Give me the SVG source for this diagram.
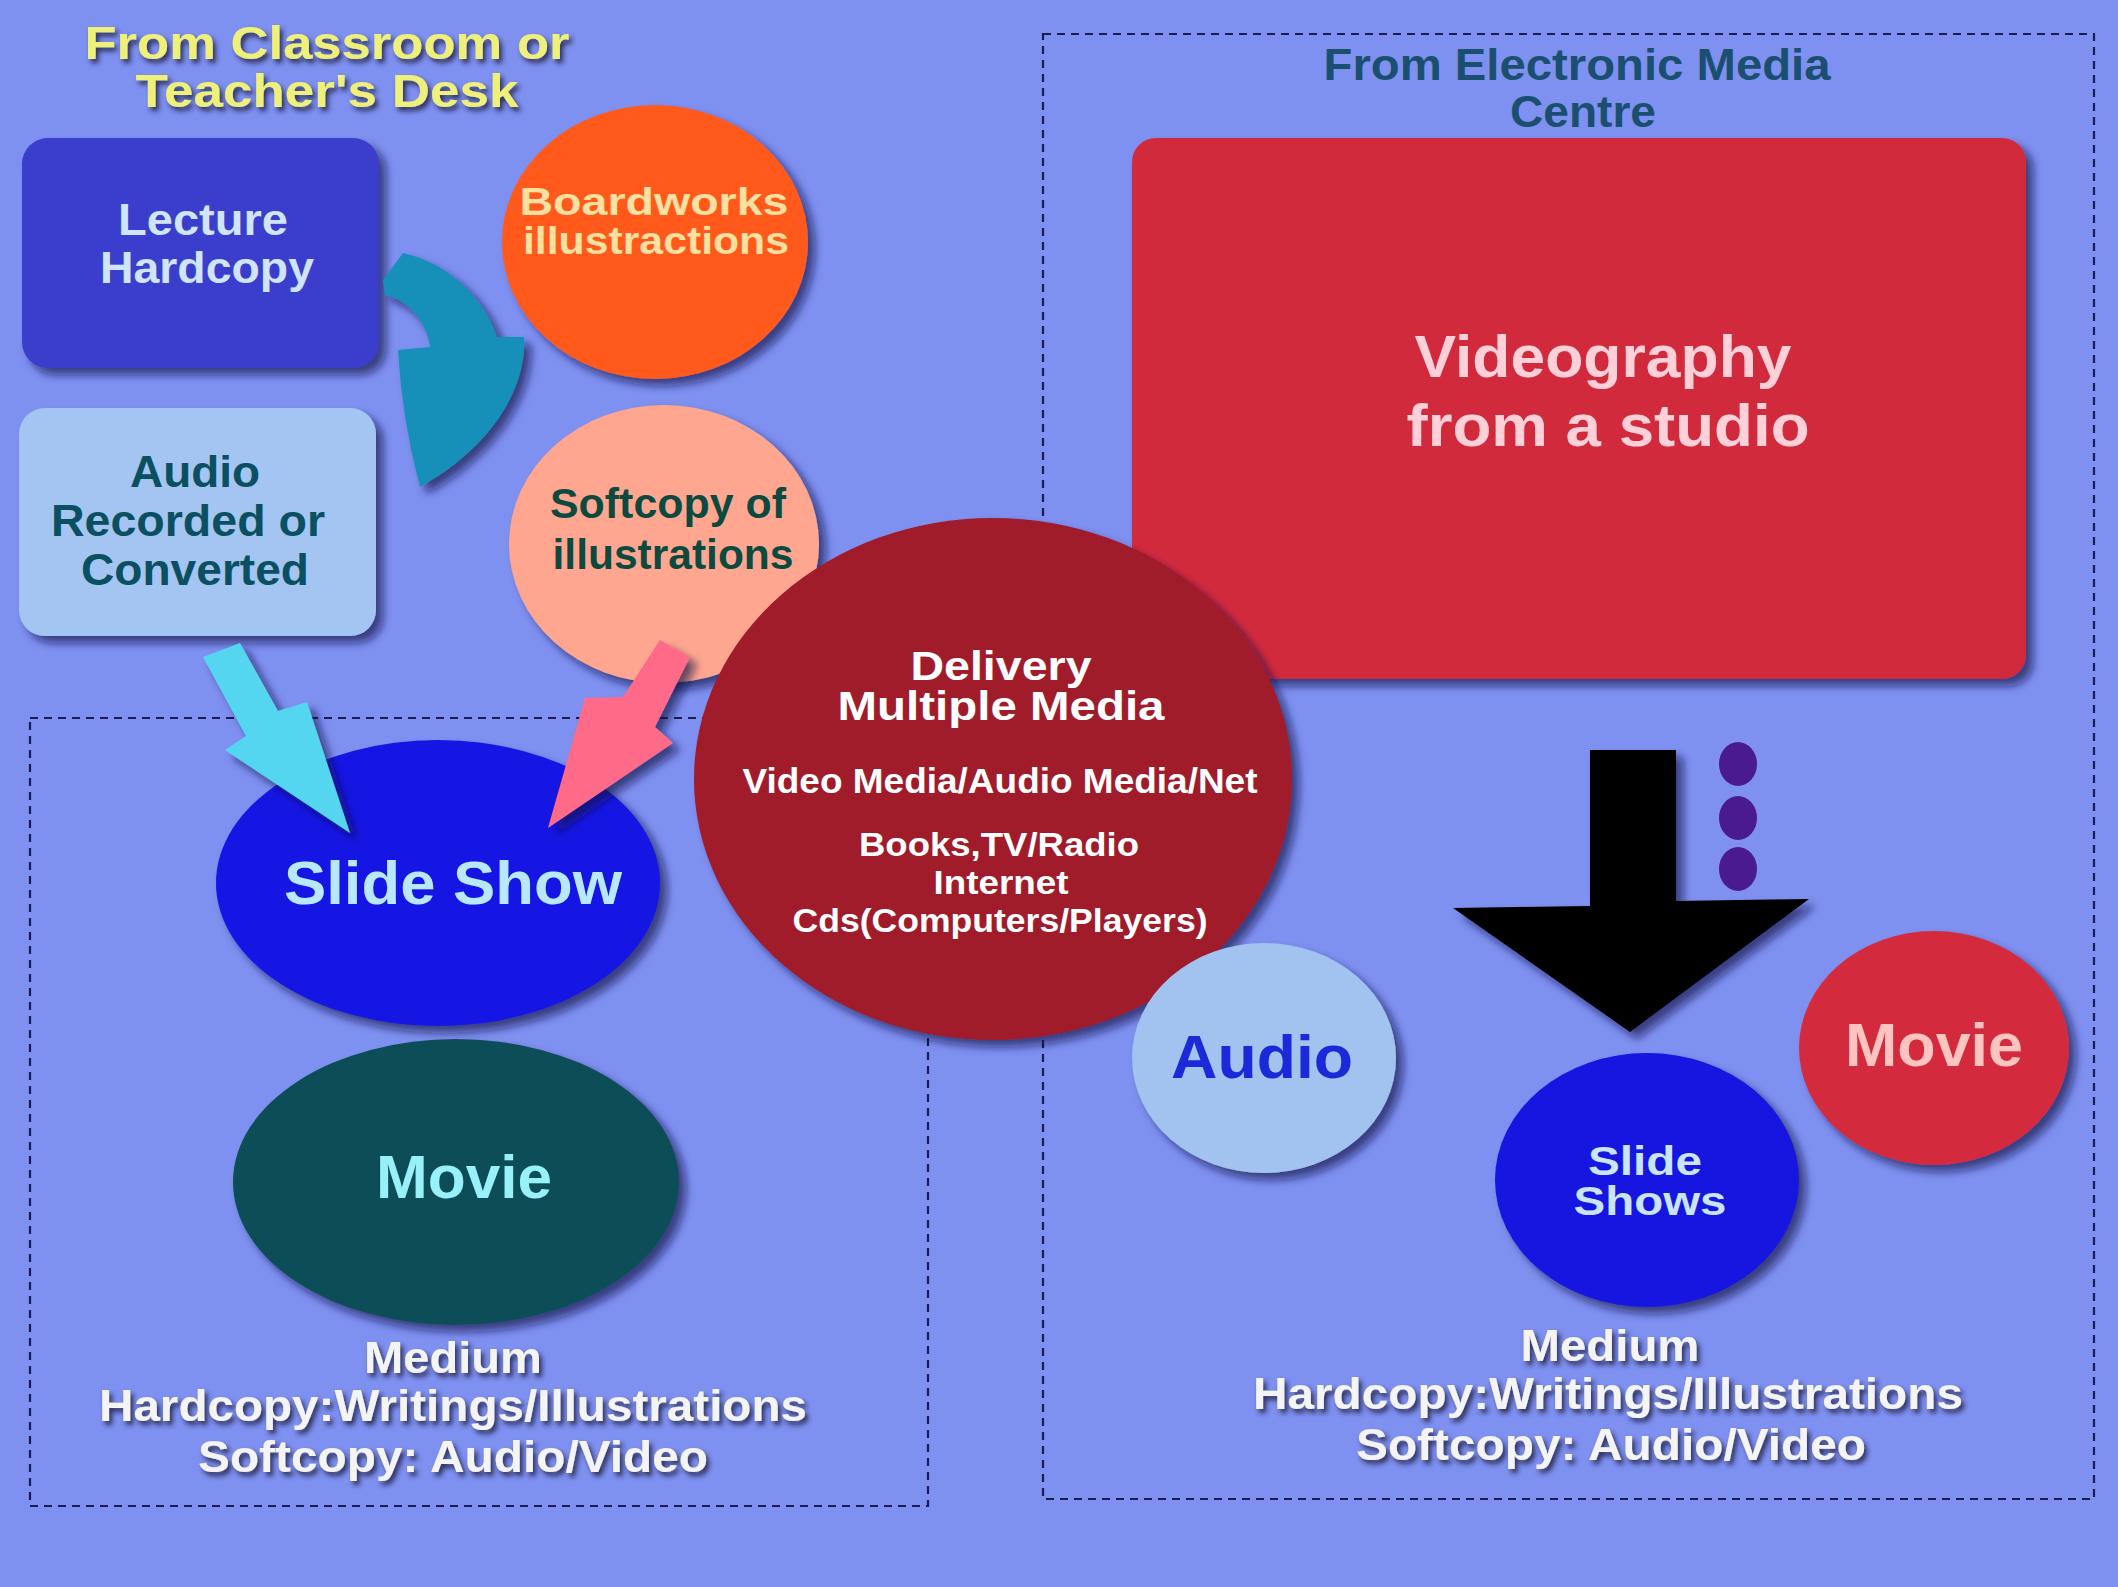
<svg xmlns="http://www.w3.org/2000/svg" width="2118" height="1587" viewBox="0 0 2118 1587">
<defs>
<filter id="sh" x="-20%" y="-20%" width="150%" height="150%">
<feDropShadow dx="7" dy="7" stdDeviation="4" flood-color="#10104a" flood-opacity="0.65"/>
</filter>
<filter id="tsh" x="-10%" y="-30%" width="130%" height="180%">
<feDropShadow dx="3" dy="4" stdDeviation="2.5" flood-color="#1a1a40" flood-opacity="0.85"/>
</filter>
</defs>
<style>
text{font-family:"Liberation Sans",Arial,sans-serif;font-weight:bold;text-anchor:middle}
.dash{fill:none;stroke:#1c1c50;stroke-width:2.2;stroke-dasharray:8 6}
.shape{filter:url(#sh)}
.ts{filter:url(#tsh)}
</style>
<rect width="2118" height="1587" fill="#7e90f0"/>

<g id="region-classroom">
<rect class="dash" x="30" y="718" width="898" height="788"/>
<text class="ts" x="327" y="59" font-size="47" fill="#eef07a" textLength="485" lengthAdjust="spacingAndGlyphs">From Classroom or</text>
<text class="ts" x="327" y="107" font-size="47" fill="#eef07a" textLength="383" lengthAdjust="spacingAndGlyphs">Teacher's Desk</text>
</g>

<g id="region-electronic">
<rect class="dash" x="1043" y="34" width="1051" height="1465"/>
<text x="1577" y="80" font-size="44" fill="#1a4f70" textLength="507" lengthAdjust="spacingAndGlyphs">From Electronic Media</text>
<text x="1583" y="127" font-size="44" fill="#1a4f70" textLength="146" lengthAdjust="spacingAndGlyphs">Centre</text>
</g>

<g id="node-lecture">
<rect class="shape" x="22" y="138" width="357" height="230" rx="26" fill="#3a3ccc"/>
<text x="203" y="235" font-size="45" fill="#cfe4ff" textLength="170" lengthAdjust="spacingAndGlyphs">Lecture</text>
<text x="207" y="283" font-size="45" fill="#cfe4ff" textLength="214" lengthAdjust="spacingAndGlyphs">Hardcopy</text>
</g>

<g id="node-audio-recorded">
<rect class="shape" x="19" y="408" width="357" height="228" rx="26" fill="#a4c4f2"/>
<text x="195" y="487" font-size="45" fill="#0a5060" textLength="130" lengthAdjust="spacingAndGlyphs">Audio</text>
<text x="188" y="536" font-size="45" fill="#0a5060" textLength="274" lengthAdjust="spacingAndGlyphs">Recorded or</text>
<text x="195" y="585" font-size="45" fill="#0a5060" textLength="228" lengthAdjust="spacingAndGlyphs">Converted</text>
</g>

<g id="node-boardworks">
<ellipse class="shape" cx="655" cy="242" rx="153" ry="137" fill="#ff5a1c"/>
<text x="654" y="215" font-size="38" fill="#ffe0a0" textLength="269" lengthAdjust="spacingAndGlyphs">Boardworks</text>
<text x="656" y="254" font-size="38" fill="#ffe0a0" textLength="266" lengthAdjust="spacingAndGlyphs">illustractions</text>
</g>

<g id="node-softcopy">
<ellipse class="shape" cx="664" cy="544" rx="155" ry="139" fill="#ffa690"/>
<text x="668" y="518" font-size="42" fill="#0c4a40" textLength="236" lengthAdjust="spacingAndGlyphs">Softcopy of</text>
<text x="673" y="569" font-size="42" fill="#0c4a40" textLength="241" lengthAdjust="spacingAndGlyphs">illustrations</text>
</g>

<g id="node-slideshow">
<ellipse class="shape" cx="438" cy="883" rx="222" ry="143" fill="#1414e4"/>
<text x="453" y="904" font-size="62" fill="#b8e8ff" textLength="338" lengthAdjust="spacingAndGlyphs">Slide Show</text>
</g>

<g id="node-movie-left">
<ellipse class="shape" cx="456" cy="1182" rx="223" ry="143" fill="#0a4e58"/>
<text x="464" y="1198" font-size="61" fill="#98f0f8" textLength="176" lengthAdjust="spacingAndGlyphs">Movie</text>
</g>

<g id="label-medium-left" class="ts">
<text x="453" y="1373" font-size="44" fill="#f4f4f4" textLength="178" lengthAdjust="spacingAndGlyphs">Medium</text>
<text x="453" y="1421" font-size="44" fill="#f4f4f4" textLength="708" lengthAdjust="spacingAndGlyphs">Hardcopy:Writings/Illustrations</text>
<text x="453" y="1472" font-size="44" fill="#f4f4f4" textLength="510" lengthAdjust="spacingAndGlyphs">Softcopy: Audio/Video</text>
</g>

<g id="node-videography">
<rect class="shape" x="1132" y="138" width="894" height="541" rx="24" fill="#d22c3c"/>
<text x="1603" y="377" font-size="60" fill="#ffd0d8" textLength="377" lengthAdjust="spacingAndGlyphs">Videography</text>
<text x="1608" y="446" font-size="60" fill="#ffd0d8" textLength="403" lengthAdjust="spacingAndGlyphs">from a studio</text>
</g>

<g id="connectors">
<path class="shape" d="M383,280 L403,253 C445,262 483,295 497,337 L524,337 C527,385 495,445 420,487 Q402,420 398,350 L430,347 C428,325 410,300 385,295 Z" fill="#1590b8"/>
<path class="shape" d="M203,657 L240,643 L278,711 L307,702 L350,833 L225,750 L246,736 Z" fill="#55d6f0"/>
<path class="shape" d="M660,640 L690,657 L655,727 L673,743 L548,828 L585,698 L623,697 Z" fill="#ff6a88"/>
<path class="shape" d="M1590,750 L1676,750 L1676,901 L1809,899 L1630,1032 L1453,908 L1590,906 Z" fill="#000000"/>
</g>

<g id="node-ellipsis">
<ellipse cx="1738" cy="764" rx="19" ry="22" fill="#4a1a90"/>
<ellipse cx="1738" cy="818" rx="19" ry="22" fill="#4a1a90"/>
<ellipse cx="1738" cy="869" rx="19" ry="22" fill="#4a1a90"/>
</g>

<g id="node-delivery">
<ellipse class="shape" cx="993" cy="779" rx="299" ry="261" fill="#a01a2a"/>
<text x="1001" y="680" font-size="40" fill="#ffffff" textLength="181" lengthAdjust="spacingAndGlyphs">Delivery</text>
<text x="1001" y="720" font-size="40" fill="#ffffff" textLength="327" lengthAdjust="spacingAndGlyphs">Multiple Media</text>
<text x="1000" y="793" font-size="35" fill="#ffffff" textLength="515" lengthAdjust="spacingAndGlyphs">Video Media/Audio Media/Net</text>
<text x="999" y="856" font-size="34" fill="#ffffff" textLength="280" lengthAdjust="spacingAndGlyphs">Books,TV/Radio</text>
<text x="1001" y="894" font-size="34" fill="#ffffff" textLength="135" lengthAdjust="spacingAndGlyphs">Internet</text>
<text x="1000" y="932" font-size="34" fill="#ffffff" textLength="415" lengthAdjust="spacingAndGlyphs">Cds(Computers/Players)</text>
</g>

<g id="node-audio">
<ellipse class="shape" cx="1264" cy="1058" rx="132" ry="115" fill="#a2c2f0"/>
<text x="1262" y="1078" font-size="62" fill="#1a2ad8" textLength="182" lengthAdjust="spacingAndGlyphs">Audio</text>
</g>

<g id="node-slideshows">
<ellipse class="shape" cx="1647" cy="1180" rx="152" ry="127" fill="#1414e0"/>
<text x="1645" y="1175" font-size="40" fill="#c8e4ff" textLength="114" lengthAdjust="spacingAndGlyphs">Slide</text>
<text x="1650" y="1215" font-size="40" fill="#c8e4ff" textLength="153" lengthAdjust="spacingAndGlyphs">Shows</text>
</g>

<g id="node-movie-right">
<ellipse class="shape" cx="1934" cy="1048" rx="135" ry="117" fill="#d42c3c"/>
<text x="1934" y="1066" font-size="61" fill="#ffc4c0" textLength="178" lengthAdjust="spacingAndGlyphs">Movie</text>
</g>

<g id="label-medium-right" class="ts">
<text x="1610" y="1361" font-size="44" fill="#f4f4f4" textLength="179" lengthAdjust="spacingAndGlyphs">Medium</text>
<text x="1608" y="1409" font-size="44" fill="#f4f4f4" textLength="710" lengthAdjust="spacingAndGlyphs">Hardcopy:Writings/Illustrations</text>
<text x="1611" y="1460" font-size="44" fill="#f4f4f4" textLength="510" lengthAdjust="spacingAndGlyphs">Softcopy: Audio/Video</text>
</g>
</svg>
